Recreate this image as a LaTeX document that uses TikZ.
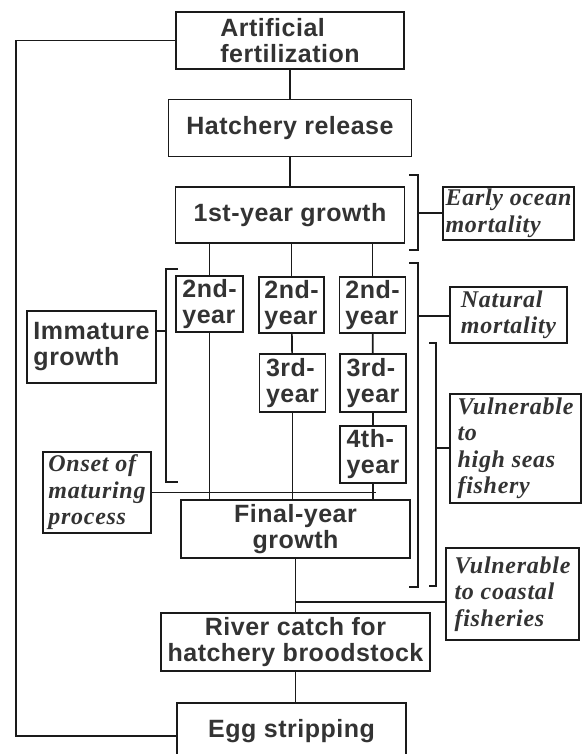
\documentclass[tikz,border=0pt]{standalone}
\usepackage{fontspec}
\newfontfamily\boxfont[LetterSpace=2]{Liberation Sans}
\newfontfamily\notefont[LetterSpace=3]{Liberation Serif}
\definecolor{ink}{HTML}{1A1A1A}
\definecolor{txt}{HTML}{333333}
\begin{document}
\begin{tikzpicture}[x=1pt,y=-1pt,
  stage/.style={draw=ink, line width=1.4pt, inner sep=2pt, text=txt, align=left,
    font=\boxfont\bfseries\fontsize{25}{26}\selectfont},
  note/.style={draw=ink, line width=1.4pt, inner sep=1pt, text=txt, align=left,
    font=\notefont\bfseries\itshape\fontsize{24}{26.5}\selectfont},
  link/.style={draw=ink, line width=1.7pt}]
\useasboundingbox (0,0) rectangle (582,754);
\clip (0,0) rectangle (582,754);
\node[stage, minimum width=228pt, minimum height=57pt] (stg0) at (290,40.5){Artificial\\fertilization};
\node[stage, minimum width=243pt, minimum height=57pt] (stg1) at (290,128){Hatchery release};
\node[stage, minimum width=229pt, minimum height=56pt] (stg2) at (290,215){1st-year growth};
\draw[link](stg0) -- (stg1);
\draw[link](stg1) -- (stg2);
\node[stage, minimum width=67pt, minimum height=56pt] (yr2a) at (209.5,304){2nd-\\year};
\node[stage, minimum width=65pt, minimum height=56pt] (yr2b) at (291.5,305){2nd-\\year};
\node[stage, minimum width=66pt, minimum height=56pt] (yr2c) at (372.5,305){2nd-\\year};
\node[stage, minimum width=66pt, minimum height=58pt] (yr3b) at (292.5,383){3rd-\\year};
\node[stage, minimum width=66pt, minimum height=58pt] (yr3c) at (373,383){3rd-\\year};
\node[stage, minimum width=66pt, minimum height=57pt] (yr4c) at (373,454.5){4th-\\year};
\draw[link](yr2a.north) -- (yr2a.north |- stg2.south);
\draw[link](yr2b.north) -- (yr2b.north |- stg2.south);
\draw[link](yr2c.north) -- (yr2c.north |- stg2.south);
\draw[link](yr2b) -- (yr3b);
\draw[link](yr2c) -- (yr3c);
\draw[link](yr3c) -- (yr4c);
\node[stage, minimum width=229pt, minimum height=58pt, align=center] (stg3) at (295.5,529){Final-year\\growth};
\draw[link](yr2a.south) -- (yr2a.south |- stg3.north);
\draw[link](yr3b.south) -- (yr3b.south |- stg3.north);
\draw[link](yr4c.south) -- (yr4c.south |- stg3.north);
\node[stage, minimum width=269pt, minimum height=58pt, align=center] (stg4) at (295.5,642){River catch for\\hatchery broodstock};
\node[stage, minimum width=229pt, minimum height=57pt] (stg5) at (291.5,731.5){Egg stripping};
\draw[link](stg3) -- (stg4);
\draw[link](stg4.south) -- (stg4.south |- stg5.north);
\coordinate (lp) at (16,400);
\draw[link](stg0.west) -| (lp) |- ([yshift=-4.5pt]stg5.west);
\node[stage, minimum width=129pt, minimum height=72pt] (imm) at (91.5,347){Immature\\growth};
\draw[link](178,269) -- (166,269) -- (166,482) -- (178,482);
\coordinate (img) at (166,331);
\draw[link](img -| imm.east) -- (img);
\node[note, minimum width=108pt, minimum height=81pt] (onset) at (97,492.5){Onset of\\maturing\\process};
\coordinate (mat) at (376,492);
\draw[link](onset.east) -- (onset.east -| mat);
\node[note, minimum width=131pt, minimum height=53pt] (early) at (508.5,213.5){Early ocean\\mortality};
\draw[link](409,175) -- (418,175) -- (418,250) -- (409,250);
\coordinate (eom) at (418,213);
\draw[link](eom) -- (eom -| early.west);
\node[note, minimum width=117pt, minimum height=56pt] (natural) at (508.5,315){Natural\\mortality};
\draw[link](409,263) -- (418,263) -- (418,587) -- (409,587);
\coordinate (nat) at (418,316);
\draw[link](nat) -- (nat -| natural.west);
\node[note, minimum width=131pt, minimum height=109pt] (highseas) at (515.5,448.5){Vulnerable\\to\\high seas\\fishery};
\draw[link](429,343) -- (436,343) -- (436,586) -- (429,586);
\coordinate (hsf) at (436,448);
\draw[link](hsf) -- (hsf -| highseas.west);
\node[note, minimum width=133pt, minimum height=92pt] (coastal) at (512.5,594){Vulnerable\\to coastal\\fisheries};
\coordinate (cst) at (295.5,602);
\draw[link](cst) -- (cst -| coastal.west);
\end{tikzpicture}
\end{document}
